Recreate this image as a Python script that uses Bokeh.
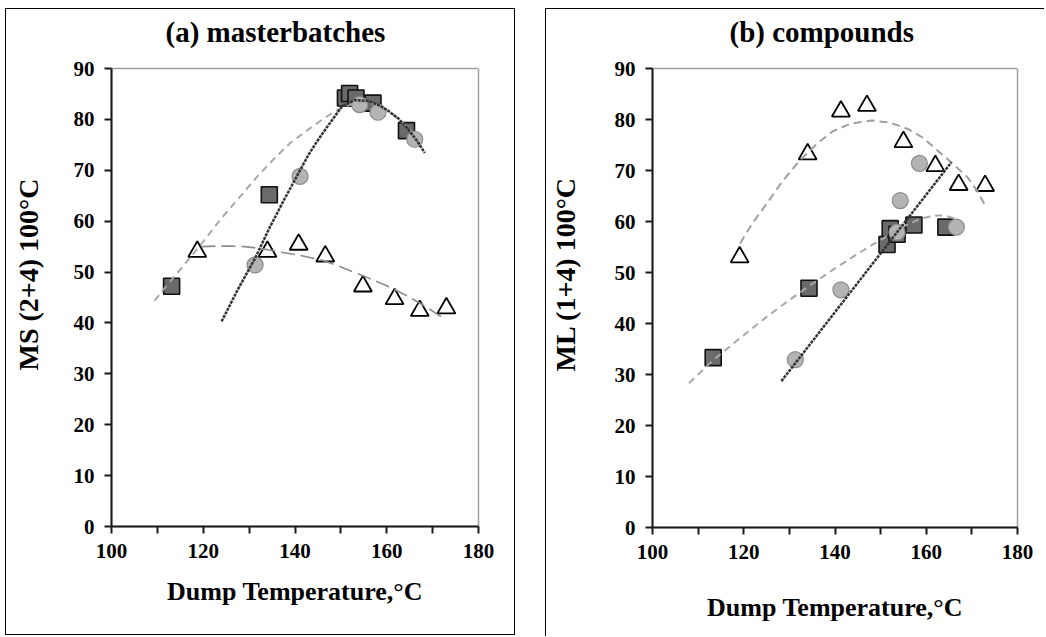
from bokeh.plotting import figure
from bokeh.layouts import row
from bokeh.models import FixedTicker, Range1d, Title, LinearAxis
from bokeh.embed import file_html
from bokeh.resources import INLINE

# ---------------- data ----------------
# (a) masterbatches
a_sq_x = [113.1, 134.4, 151.0, 151.9, 153.3, 157.0, 164.3]
a_sq_y = [47.2, 65.2, 84.2, 85.1, 84.2, 83.2, 77.8]
a_ci_x = [131.3, 141.1, 154.1, 158.1, 166.1]
a_ci_y = [51.4, 68.8, 82.9, 81.4, 76.1]
a_tr_x = [118.7, 134.0, 140.8, 146.6, 154.8, 161.7, 167.2, 173.0]
a_tr_y = [54.0, 54.0, 55.4, 53.1, 47.2, 44.7, 42.4, 42.9]
# trend lines
a_sq_fit_x = [109.4, 112.0, 115.0, 120.0, 124.0, 128.4, 132.0, 135.6, 139.0, 142.9, 146.0,
              148.7, 151.0, 153.0, 155.0, 157.0, 159.0, 161.0, 163.0, 165.0, 168.0]
a_sq_fit_y = [44.4, 47.3, 50.5, 56.0, 60.6, 65.2, 69.0, 72.4, 75.4, 78.0, 80.0,
              81.6, 82.6, 83.2, 83.4, 83.1, 82.4, 81.2, 79.8, 78.0, 74.0]
a_ci_fit_x = [124.0, 127.5, 131.3, 134.5, 137.8, 140.5, 142.9, 145.2, 147.3, 150.2, 153.0,
              156.0, 158.0, 160.0, 162.5, 164.7, 166.5, 168.3]
a_ci_fit_y = [40.3, 46.5, 52.7, 58.8, 64.5, 69.0, 73.0, 76.2, 78.9, 82.5, 83.8,
              83.6, 82.9, 81.9, 80.2, 78.0, 75.9, 73.4]
a_tr_fit_x = [119.6, 123.0, 126.0, 129.0, 131.0, 134.0, 137.0, 141.0, 146.0, 150.0, 155.0,
              160.0, 164.7, 168.5, 172.4]
a_tr_fit_y = [55.0, 55.1, 55.1, 55.0, 54.8, 54.4, 53.9, 53.3, 52.3, 51.0, 49.2,
              47.3, 45.2, 43.2, 40.9]

# (b) compounds
b_sq_x = [113.3, 134.3, 151.4, 152.1, 153.6, 157.3, 164.3]
b_sq_y = [33.3, 46.9, 55.5, 58.6, 57.5, 59.3, 58.9]
b_ci_x = [131.3, 141.3, 153.6, 154.3, 158.5, 166.6]
b_ci_y = [32.9, 46.6, 57.9, 64.1, 71.4, 58.9]
b_tr_x = [119.1, 134.0, 141.3, 147.0, 155.0, 162.0, 167.1, 172.9]
b_tr_y = [53.0, 73.2, 81.6, 82.7, 75.6, 70.9, 67.2, 67.0]
b_sq_fit_x = [108.0, 113.4, 119.0, 125.0, 130.0, 134.4, 139.5, 144.5, 148.5, 151.7,
              154.0, 156.1, 159.0, 161.9, 164.0, 166.2]
b_sq_fit_y = [28.3, 32.9, 37.0, 41.3, 44.6, 47.4, 50.5, 53.4, 55.6, 57.3,
              58.5, 59.5, 60.6, 61.2, 61.2, 60.6]
b_ci_fit_x = [128.25, 165.5]
b_ci_fit_y = [28.7, 71.6]
b_tr_fit_x = [119.2, 122.0, 125.0, 128.5, 132.2, 136.0, 139.5, 143.5, 148.1, 152.0,
              156.1, 159.5, 162.6, 166.0, 169.1, 171.3, 173.1]
b_tr_fit_y = [55.7, 59.8, 63.45, 67.9, 71.9, 75.2, 77.7, 79.2, 79.8, 79.4,
              78.1, 76.3, 73.8, 71.2, 68.6, 65.8, 62.8]

x_major = [100, 120, 140, 160, 180]
x_minor = [110, 130, 150, 170]
y_ticks = [0, 10, 20, 30, 40, 50, 60, 70, 80, 90]

titles = ["(a) masterbatches", "(b) compounds"]
y_labels = ["MS (2+4) 100°C", "ML (1+4) 100°C"]
x_label = "Dump Temperature,°C"

FONT = "Liberation Serif"


def spacer(size, tick):
    # an axis whose single tick is white on the white border and whose label is not drawn:
    # it only reserves room between the frame and a title
    return LinearAxis(ticker=FixedTicker(ticks=[tick], minor_ticks=[]), major_tick_out=size,
                      major_tick_in=0, minor_tick_out=0, minor_tick_in=0,
                      axis_line_color=None, major_tick_line_color="white",
                      major_tick_line_width=1, minor_tick_line_color=None,
                      major_label_standoff=0, major_label_text_color=None)


def make_fig(title, ylabel, w, h, bl, br, bt, bb, title_dx, ylab_dx, ylab_gap, ylab_so,
             xlab_standoff):
    p = figure(width=w, height=h, output_backend="svg", toolbar_location=None,
               x_range=Range1d(100, 180), y_range=Range1d(0, 90),
               min_border_left=bl, min_border_right=br, min_border_top=bt,
               min_border_bottom=bb)
    p.grid.visible = False
    p.outline_line_color = "#a0a0a0"
    p.outline_line_width = 1.5
    p.background_fill_color = "white"
    p.border_fill_color = "white"
    for ax in (p.xaxis[0], p.yaxis[0]):
        ax.axis_line_color = "#1a1a1a"
        ax.axis_line_width = 2
        ax.major_tick_line_color = "#1a1a1a"
        ax.major_tick_line_width = 2
        ax.minor_tick_line_color = "#1a1a1a"
        ax.minor_tick_line_width = 2
        ax.major_tick_out = 7
        ax.major_tick_in = 0
        ax.minor_tick_out = 7
        ax.minor_tick_in = 0
        ax.major_label_text_font = FONT
        ax.major_label_text_font_style = "bold"
        ax.major_label_text_font_size = "21px"
        ax.major_label_text_color = "black"
        ax.axis_label_text_font = FONT
        ax.axis_label_text_font_style = "bold"
        ax.axis_label_text_color = "black"
    p.xaxis.ticker = FixedTicker(ticks=x_major, minor_ticks=x_minor)
    p.yaxis.ticker = FixedTicker(ticks=y_ticks, minor_ticks=[])
    p.xaxis.axis_label = x_label
    p.xaxis.axis_label_text_font_size = "26px"
    p.xaxis.major_label_standoff = 10
    p.xaxis.axis_label_standoff = xlab_standoff
    p.yaxis.major_label_standoff = 10

    # chart title above the frame (spacer keeps it clear of the frame)
    p.add_layout(spacer(18, x_major[-1]), "above")
    p.add_layout(Title(text=title, align="left", offset=title_dx, standoff=6,
                       text_font=FONT, text_font_size="29px", text_font_style="bold",
                       text_color="black"), "above")
    # y-axis title on the left
    p.add_layout(spacer(ylab_gap, y_ticks[0]), "left")
    p.add_layout(Title(text=ylabel, align="left", offset=ylab_dx, standoff=ylab_so,
                       text_font=FONT, text_font_size="28px", text_font_style="bold",
                       text_color="black"), "left")
    return p


def add_series(p, sq_x, sq_y, ci_x, ci_y, tr_x, tr_y):
    p.scatter(tr_x, tr_y, marker="triangle", size=18, fill_color="white",
              line_color="black", line_width=1.8)
    p.scatter(sq_x, sq_y, marker="square", size=16, fill_color="#6a6a6a",
              line_color="#111111", line_width=1.6)
    p.scatter(ci_x, ci_y, marker="circle", size=16, fill_color="#b4b4b4",
              line_color="#8c8c8c", line_width=1.2)


p1 = make_fig(titles[0], y_labels[0], 510, 627, 105, 38, 59, 110, 54, 156, 25, 4, 16)
p1.styles = {"border": "1.5px solid black"}
add_series(p1, a_sq_x, a_sq_y, a_ci_x, a_ci_y, a_tr_x, a_tr_y)
p1.line(a_sq_fit_x, a_sq_fit_y, line_color="#a8a8a8", line_width=2, line_dash="7 5")
p1.line(a_tr_fit_x, a_tr_fit_y, line_color="#8c8c8c", line_width=1.6, line_dash="14 6")
p1.line(a_ci_fit_x, a_ci_fit_y, line_color="#333333", line_width=2.5, line_dash="3 1")

p2 = make_fig(titles[1], y_labels[1], 499, 628, 103, 28, 59, 107, 77, 156, 30, 2, 31)
p2.styles = {"border-left": "1.5px solid black", "border-top": "1.5px solid black"}
add_series(p2, b_sq_x, b_sq_y, b_ci_x, b_ci_y, b_tr_x, b_tr_y)
p2.line(b_tr_fit_x, b_tr_fit_y, line_color="#a0a0a0", line_width=2, line_dash="8 5")
p2.line(b_sq_fit_x, b_sq_fit_y, line_color="#a8a8a8", line_width=2, line_dash="7 5")
p2.line(b_ci_fit_x, b_ci_fit_y, line_color="#333333", line_width=2.5, line_dash="3 1")

layout = row(p1, p2, spacing=30)
layout.margin = (8, 0, 0, 5)
open("out.html", "w").write(file_html(layout, INLINE))
